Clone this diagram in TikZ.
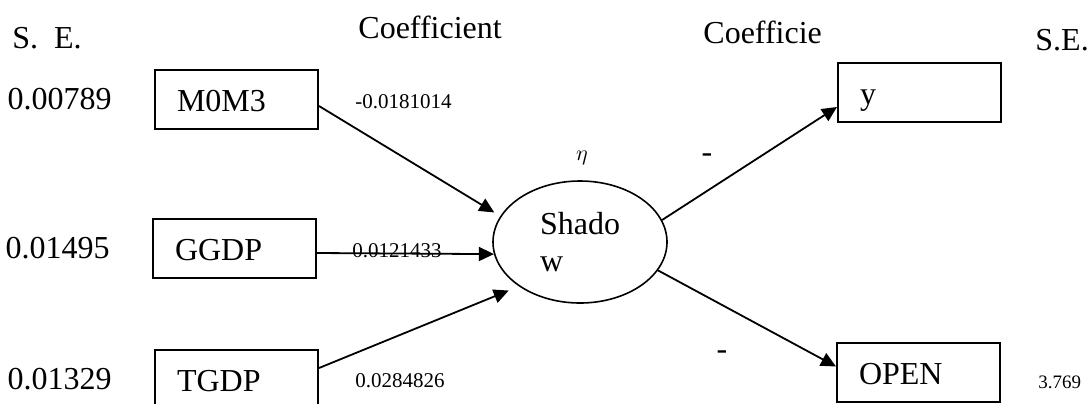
\documentclass[tikz,border=0pt]{standalone}
\usepackage{fontspec}
\setmainfont{Liberation Serif}
\usetikzlibrary{positioning,shapes.geometric,arrows.meta}

\begin{document}
\begin{tikzpicture}[x=0.5pt,y=-0.5pt,
    font=\fontsize{16}{18.5}\selectfont,
    var/.style={draw,line width=1pt,text width=59.5pt,inner xsep=11pt,inner ysep=0pt,
      minimum height=29.5pt,text height=11.5pt,text depth=0pt,align=left,anchor=north west},
    lat/.style={draw,ellipse,line width=0.8pt,minimum width=87pt,minimum height=61pt,
      inner sep=0pt,align=left},
    num/.style={inner sep=0pt},
    coef/.style={inner sep=0pt,font=\fontsize{10.5}{12}\selectfont},
    link/.style={-{Triangle[length=7.5pt,width=7pt]},line width=0.9pt}]
  \useasboundingbox (0,0) rectangle (1090,403);
  \clip (0,0) rectangle (1090,403);

  % headers
  \node[num,anchor=base west] (seL) at (12,48) {S.~~E.};
  \node[num,anchor=base west] (coefL) at (358,38) {Coefficient};
  \node[num,anchor=base west] (coefR) at (703,43) {Coefficie};
  \node[num,anchor=base west] (seR) at (1035,50) {S.E.};

  % observed variables
  \node[var] (m0m3) at (154,69) {M0M3};
  \node[var] (ggdp) at (152,218) {GGDP};
  \node[var] (tgdp) at (154,349) {TGDP};
  \node[var] (y) at (837,62) {y};
  \node[var] (open) at (836,342) {OPEN};

  % latent variable
  \node[lat] (shadow) at (580,242) {Shado\\w};
  \node[coef] (eta) at (582,158) {$\eta$};

  % standard errors
  \node[num,left=21pt of m0m3] (se1) {0.00789};
  \node[num,left=21pt of ggdp] (se2) {0.01495};
  \node[num,left=21pt of tgdp] (se3) {0.01329};
  \node[coef,right=18.5pt of open,yshift=-5pt,font=\fontsize{9.5}{11}\selectfont] (se4) {3.769};

  % coefficients
  \node[coef,right=18pt of m0m3,yshift=-1.2pt] (c1) {-0.0181014};
  \node[coef,right=17.5pt of ggdp,yshift=-1.25pt] (c2) {0.0121433};
  \node[coef,right=18pt of tgdp,yshift=-0.75pt] (c3) {0.0284826};
  \node[num] (c4) at (707,158) {-};
  \node[num] (c5) at (722,355) {-};

  % paths
  \draw[link,shorten >=3.5pt] ([yshift=-3.25pt]m0m3.east) -- (shadow.162);
  \draw[link] ([yshift=-2.25pt]ggdp.east) -- (shadow.188);
  \draw[link,shorten >=5.5pt] ([yshift=5.75pt]tgdp.east) -- (shadow.216);
  \draw[link] (shadow.15) -- ([yshift=-7.25pt]y.west);
  \draw[link] (shadow.-20) -- ([yshift=3pt]open.west);
\end{tikzpicture}
\end{document}
